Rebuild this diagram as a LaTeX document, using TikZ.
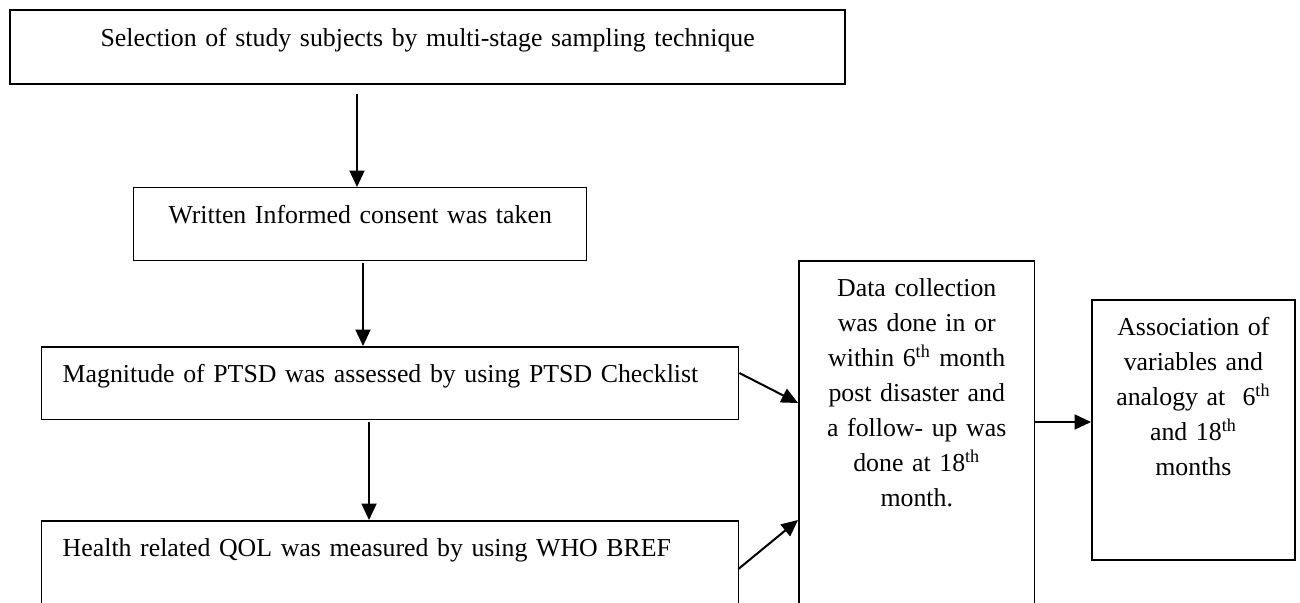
\documentclass[tikz,border=0pt]{standalone}
\usepackage{fontspec}
\setmainfont{Liberation Serif}
\usetikzlibrary{positioning, arrows.meta, calc}

\begin{document}
\begin{tikzpicture}[
  x=0.02cm, y=-0.02cm,
  font=\fontsize{14.7pt}{19.9pt}\selectfont,
  box/.style={draw, line width=0.85pt, inner sep=0pt, anchor=north west,
              text height=0.72cm, align=center},
  leftbox/.style={box, inner xsep=0.42cm, align=left},
  arr/.style={-{Triangle[length=0.33cm, width=0.3cm]}, line width=1.15pt},
]

% Page
\useasboundingbox (0,0) rectangle (1300,602);
\clip (0,0) rectangle (1300,602);

% Steps
\node[box, line width=1.4pt, text width=16.7cm, text depth=0.76cm] (select) at (9,9)
  {Selection of study subjects by multi-stage sampling technique};
\node[box, text width=9.06cm, text depth=0.74cm] (consent) at (133,187)
  {Written Informed consent was taken};
\node[leftbox, text width=13.1cm, text depth=0.74cm] (ptsd) at (41,346)
  {Magnitude of PTSD was assessed by using PTSD Checklist};
\node[leftbox, text width=13.1cm, text depth=1.68cm] (qol) at (41,520)
  {Health related QOL was measured by using WHO BREF};

% Collection and analysis
\node[box, text width=4.72cm, text depth=6.88cm] (collect) at (798,260)
  {Data collection\\was done in or\\within 6\textsuperscript{th} month\\post disaster and\\
   a follow- up was\\done at 18\textsuperscript{th}\\month.};
\node[box, line width=1pt, text width=4.06cm, text depth=4.48cm] (assoc) at (1091,299)
  {Association of\\variables and\\analogy at\ \ 6\textsuperscript{th}\\and 18\textsuperscript{th}\\months};

% Arrows
\coordinate (a1) at ($(select.south west)+(348,9)$);
\coordinate (a2) at ($(consent.south west)+(230,2)$);
\coordinate (a3) at ($(ptsd.south west)+(328,2)$);
\draw[arr] (a1) -- (a1 |- consent.north);
\draw[arr] (a2) -- (a2 |- ptsd.north);
\draw[arr] (a3) -- (a3 |- qol.north);
\draw[arr] ($(ptsd.north east)+(0,27)$) -- ($(collect.north west)+(0,143)$);
\draw[arr] ($(qol.north east)+(-1,49)$) -- ($(collect.north west)+(0,260)$);
\coordinate (a6) at ($(collect.north east)+(0,162)$);
\draw[arr] (a6) -- (a6 -| assoc.west);

\end{tikzpicture}
\end{document}
